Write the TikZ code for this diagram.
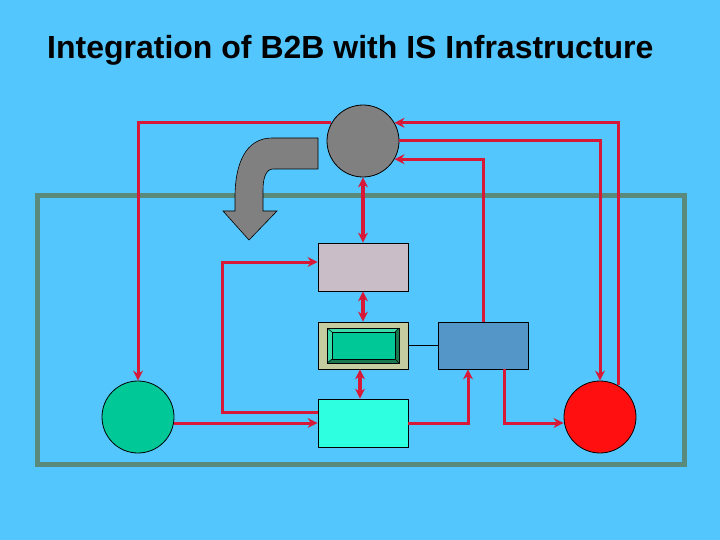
\documentclass[tikz,border=0pt]{standalone}
\usepackage{fontspec}
\usepackage{xcolor}
\setmainfont{Liberation Sans}
\usetikzlibrary{arrows.meta}
\usetikzlibrary{positioning}

\definecolor{slideblue}{RGB}{84,198,254}
\definecolor{framegreen}{RGB}{90,138,124}
\definecolor{linkred}{RGB}{215,25,55}
\definecolor{hubgray}{RGB}{128,128,128}
\definecolor{partnergreen}{RGB}{0,200,150}
\definecolor{custred}{RGB}{255,15,15}
\definecolor{mauve}{RGB}{201,189,200}
\definecolor{khaki}{RGB}{196,204,160}
\definecolor{steel}{RGB}{85,150,200}
\definecolor{aqua}{RGB}{46,255,224}
\definecolor{bevellight}{RGB}{60,220,170}
\definecolor{beveldark}{RGB}{25,120,80}

\tikzset{
	sys/.style={draw=black, line width=0.8pt, minimum width=90pt, minimum height=48pt, inner sep=0pt},
	party/.style={circle, draw=black, line width=0.8pt, minimum size=72pt, inner sep=0pt},
	link/.style={draw=linkred, line width=3pt, -{Stealth[length=10pt, width=10pt]}},
	dlink/.style={link, line width=3.5pt, {Stealth[length=10pt, width=10pt]}-{Stealth[length=10pt, width=10pt]}},
	plain/.style={draw=linkred, line width=3pt}
}

\begin{document}
\begin{tikzpicture}[x=1pt, y=-1pt]
	\fill[slideblue] (0,0) rectangle (720,540);
	\useasboundingbox (0,0) rectangle (720,540);
	
	\node[anchor=base west, font=\fontsize{32}{38}\selectfont\bfseries, text=black, inner sep=0pt] (title) at (47,59) {Integration of B2B with IS Infrastructure};
	
	% enterprise frame
	\draw[framegreen, line width=5pt] (37,196) rectangle (684,464);
	
	% bent arrow
	\draw[fill=hubgray, draw=black, line width=0.6pt]
	(318,138) -- (272,138) .. controls (245,138) and (235,165) .. (235,197) -- (235,211)
	-- (223,211) -- (249,240) -- (277,211) -- (263,211) -- (263,190)
	.. controls (263,178) and (266,169) .. (273,169) -- (318,169) -- cycle;
	
	\node[party, fill=hubgray] (hub) at (363,141) {};
	\node[party, fill=partnergreen] (supplier) at (138,417) {};
	\node[party, fill=custred] (customer) at (600,417) {};
	
	\node[sys, fill=mauve] (erp) at (363,267) {};
	\node[sys, fill=khaki, minimum height=47pt] (mw) at (363,345.5) {};
	\node[sys, fill=steel, minimum height=47pt] (crm) at (483,345.5) {};
	\node[sys, fill=aqua] (scm) at (363,423) {};
	
	% bevelled button inside middleware box
	\fill[bevellight] (327,328) -- (399,328) -- (395,332) -- (332,332) -- (332,359) -- (327,363) -- cycle;
	\fill[beveldark] (399,328) -- (399,363) -- (327,363) -- (332,359) -- (395,359) -- (395,332) -- cycle;
	\draw[black, line width=0.6pt, fill=partnergreen] (332,332) rectangle (395,359);
	\draw[black, line width=0.6pt] (327,328) rectangle (399,363);
	\draw[black, line width=0.5pt] (327,328) -- (332,332) (399,328) -- (395,332) (327,363) -- (332,359) (399,363) -- (395,359);
	
	\draw[black, line width=0.8pt] (mw.east) -- (crm.west);
	
	% links to and from the hub
	\coordinate (hubA) at (hub.150);
	\coordinate (hubB) at (hub.east);
	\coordinate (hubC) at (hub.330);
	\coordinate (hubD) at (hub.30);
	\draw[link] (hubA) -| (supplier.north);
	\draw[link] (customer.60) |- (hubD);
	\draw[link] (hubB) -| (customer.north);
	\draw[link] (crm.north) |- (hubC);
	
	\draw[dlink] (hub.south) -- (erp.north);
	\draw[dlink] (erp.south) -- (mw.north);
	\draw[dlink] ([xshift=-3pt]mw.south) -- ([xshift=-3pt]scm.north);
	
	\draw[link] ([yshift=11pt]scm.west) -| (222,262) -- (erp.west |- 0,262);
	\draw[link] (supplier.east |- 0,423) -- (scm.west);
	\draw[link] (scm.east) -| ([xshift=-15pt]crm.south);
	\draw[link] ([xshift=21pt]crm.south) |- (customer.west |- 0,423);
\end{tikzpicture}
\end{document}
